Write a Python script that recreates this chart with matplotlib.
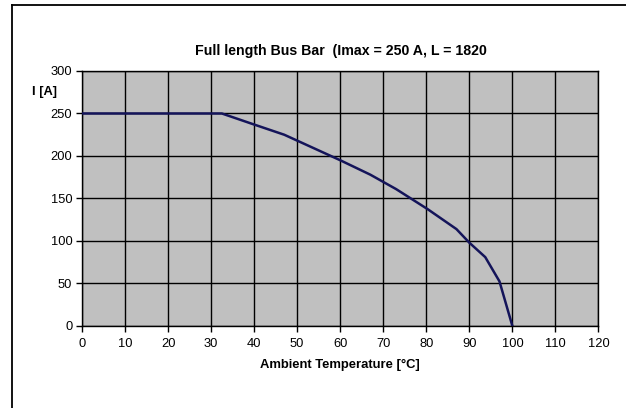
import matplotlib
matplotlib.use("Agg")
import matplotlib.pyplot as plt
from matplotlib.lines import Line2D

plt.rcParams['font.family'] = ['Liberation Sans', 'DejaVu Sans']

# derating curve
temp = [0, 32.5, 40, 47, 60, 67, 73, 80.3, 87, 90, 93.7, 97, 100]
current = [250, 250, 237, 225, 195, 178, 161, 137.5, 114, 98, 81, 52.5, 0]

xticks = list(range(0, 121, 10))
yticks = list(range(0, 301, 50))

fig = plt.figure(figsize=(6.26, 4.08), dpi=100)
# chart frame: only top and left edges fall inside the picture
fig.lines.append(Line2D([0.019, 1.0], [0.988, 0.988], transform=fig.transFigure,
                        color='black', linewidth=1.3))
fig.lines.append(Line2D([0.019, 0.019], [0.0, 0.988], transform=fig.transFigure,
                        color='black', linewidth=1.3))

ax = fig.add_axes([0.131, 0.201, 0.825, 0.625])
ax.set_facecolor('#c0c0c0')
ax.plot(temp, current, color='#14145a', linewidth=1.8, zorder=3)

ax.set_xlim(0, 120)
ax.set_ylim(0, 300)
ax.set_xticks(xticks)
ax.set_yticks(yticks)
ax.grid(True, color='black', linewidth=1.0)
ax.set_axisbelow(True)
for s in ax.spines.values():
    s.set_color('black')
    s.set_linewidth(1.0)
ax.tick_params(direction='out', length=4, width=1, labelsize=9.3)
ax.tick_params(axis='x', pad=5)
ax.tick_params(axis='y', pad=3)

ax.set_xlabel('Ambient Temperature [°C]', fontsize=9.4, fontweight='bold', labelpad=6)
fig.text(0.051, 0.775, 'I [A]', fontsize=9.3, fontweight='bold', ha='left', va='center')
fig.text(0.544, 0.875, 'Full length Bus Bar  (Imax = 250 A, L = 1820', fontsize=10.2,
         fontweight='bold', ha='center', va='center')

fig.savefig('out.png', dpi=100)
